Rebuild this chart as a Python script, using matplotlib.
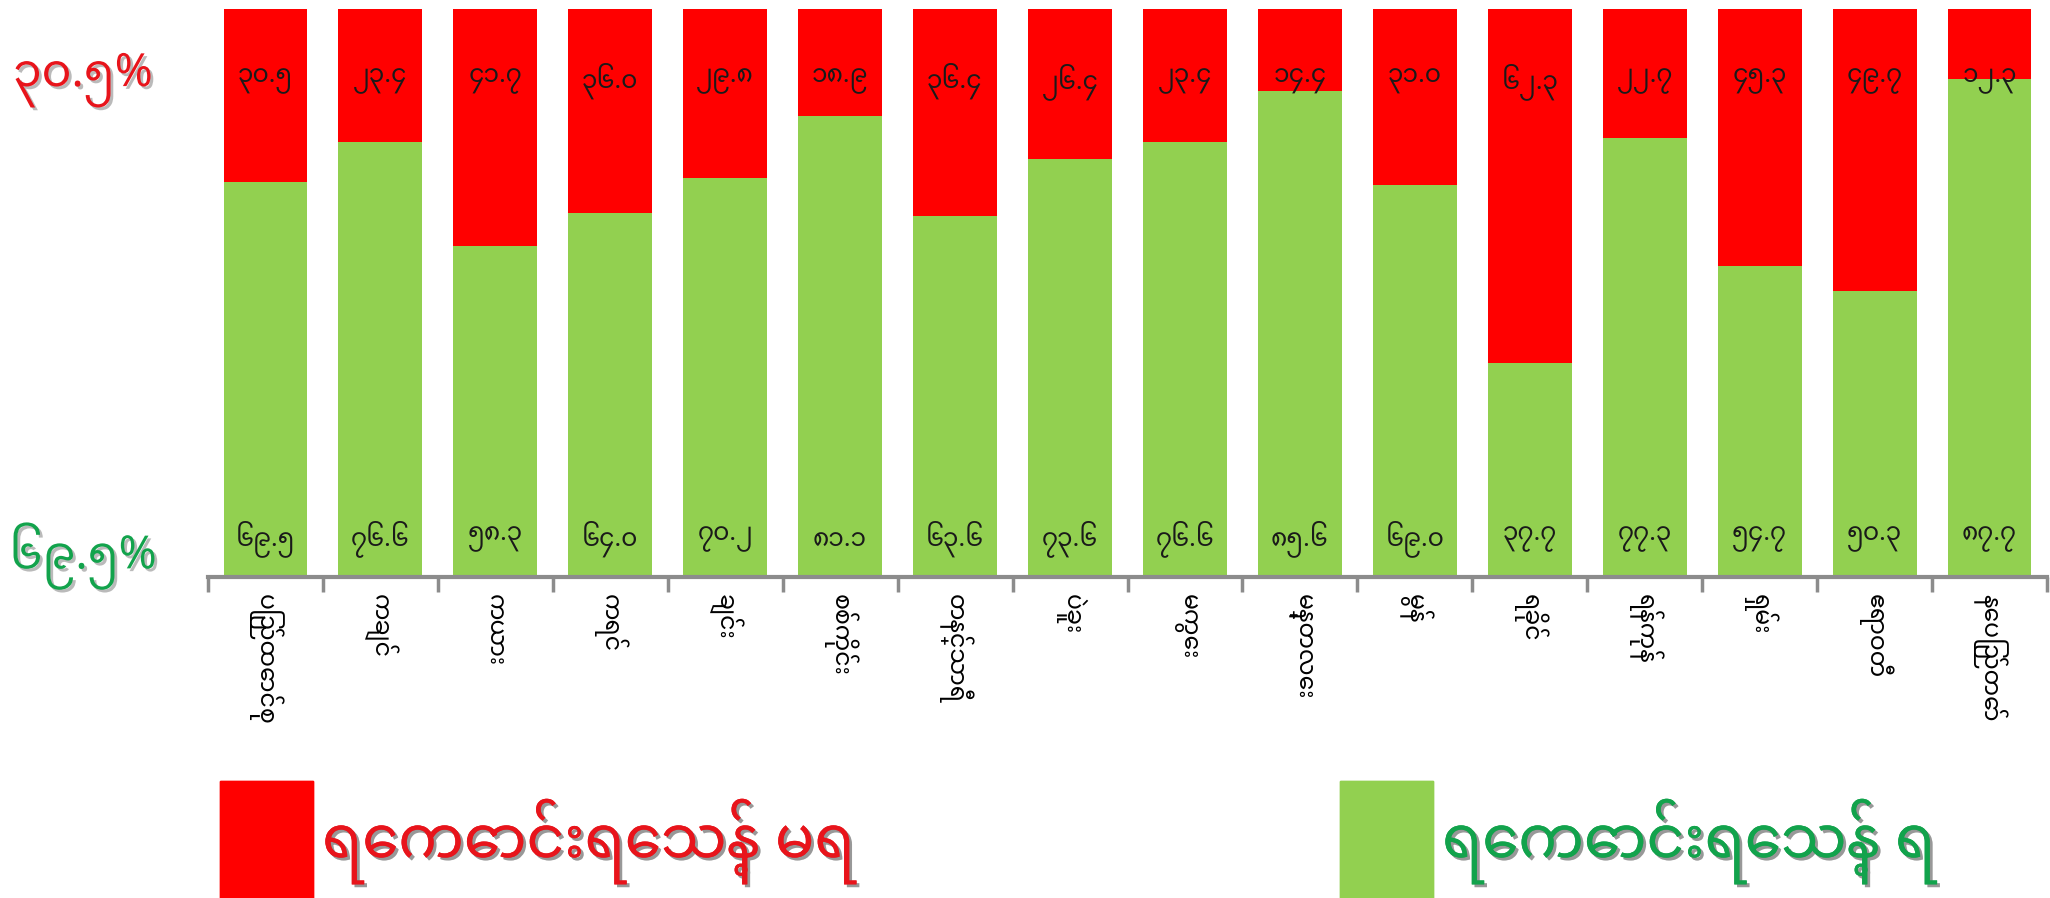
import numpy as np
import matplotlib
matplotlib.use("Agg")
import matplotlib.pyplot as plt
import matplotlib.patheffects as pe
from matplotlib import font_manager
from matplotlib.ft2font import FT2Font
from matplotlib.patches import Patch

# data (percent of households)
regions = ["ပြည်ထောင်စု", "ကချင်", "ကယား", "ကရင်", "ချင်း", "စစ်ကိုင်း",
           "တနင်္သာရီ", "ပဲခူး", "မကွေး", "မန္တလေး", "မွန်", "ရခိုင်",
           "ရန်ကုန်", "ရှမ်း", "ဧရာဝတီ", "နေပြည်တော်"]
have_water = [69.5, 76.6, 58.3, 64.0, 70.2, 81.1, 63.6, 73.6,
              76.6, 85.6, 69.0, 37.7, 77.3, 54.7, 50.3, 87.7]
no_water = [30.5, 23.4, 41.7, 36.0, 29.8, 18.9, 36.4, 26.4,
            23.4, 14.4, 31.0, 62.3, 22.7, 45.3, 49.7, 12.3]
union_no = 30.5
union_have = 69.5
legend_no = "ရေကောင်းရေသန့် မရ"
legend_have = "ရေကောင်းရေသန့် ရ"

RED = "#FF0000"
GREEN = "#92D050"
TXT_RED = "#E8141B"
TXT_GREEN = "#12A34C"


def to_mm(s):
    # western digits -> myanmar digits
    return s.translate(str.maketrans("0123456789", "၀၁၂၃၄၅၆၇၈၉"))


def pick_myanmar_font():
    names = set()
    for f in font_manager.fontManager.ttflist:
        try:
            cmap = FT2Font(f.fname).get_charmap()
        except Exception:
            continue
        if 0x1000 in cmap and 0x1041 in cmap:
            names.add(f.name)
    for want in ["Noto Sans Myanmar", "Padauk", "Myanmar Sans Pro", "Myanmar Khyay"]:
        if want in names:
            return want
    others = sorted(n for n in names if "unifont" not in n.lower())
    return others[0] if others else None


mm = pick_myanmar_font()
fam = [mm, "DejaVu Sans"] if mm else ["Noto Sans", "DejaVu Sans"]
plt.rcParams["font.family"] = fam

fig = plt.figure(figsize=(20.5, 8.98), dpi=100)
ax = fig.add_axes([208 / 2050, 1 - 577 / 898, 1839 / 2050, 568 / 898])

x = np.arange(len(regions))
ax.bar(x, have_water, width=0.73, color=GREEN)
ax.bar(x, no_water, bottom=have_water, width=0.73, color=RED)

for i in x:
    ax.text(i, 6.7, to_mm(f"{have_water[i]:.1f}"), ha="center", va="center",
            fontsize=18, color="#1a1a1a")
    ax.text(i, 87.3, to_mm(f"{no_water[i]:.1f}"), ha="center", va="center",
            fontsize=18, color="#1a1a1a")

ax.set_xlim(-0.5, len(regions) - 0.5)
ax.set_ylim(0, 100)
ax.set_yticks([])
for s in ["top", "left", "right"]:
    ax.spines[s].set_visible(False)
ax.spines["bottom"].set_color("#8c8c8c")
ax.spines["bottom"].set_linewidth(3)

ax.set_xticks(x)
ax.set_xticklabels(regions, rotation=-90, fontsize=17, va="top", ha="center")
ax.set_xticks(np.arange(-0.5, len(regions)), minor=True)
ax.tick_params(axis="x", which="major", length=0, pad=12)
ax.tick_params(axis="x", which="minor", length=11, width=2.5, color="#8c8c8c")

shadow = [pe.withSimplePatchShadow(offset=(2, -2), shadow_rgbFace="#777777", alpha=0.5)]

fig.text(83 / 2050, 1 - 80 / 898, to_mm(f"{union_no:.1f}%"), ha="center", va="center",
         fontsize=33, color=TXT_RED, path_effects=shadow)
fig.text(83 / 2050, 1 - 556 / 898, to_mm(f"{union_have:.1f}%"), ha="center", va="center",
         fontsize=33, color=TXT_GREEN, path_effects=shadow)

for label, col, tcol, x0 in [(legend_no, RED, TXT_RED, 220 / 2050),
                             (legend_have, GREEN, TXT_GREEN, 1340 / 2050)]:
    leg = fig.legend(handles=[Patch(color=col)], labels=[label], loc="lower left",
                     bbox_to_anchor=(x0, 0.0), frameon=False, fontsize=42,
                     handlelength=1.6, handleheight=2.7, handletextpad=0.15,
                     borderpad=0, borderaxespad=0, labelcolor=tcol)
    for t in leg.get_texts():
        t.set_path_effects(shadow)
    fig.add_artist(leg)

fig.savefig("out.png", dpi=100)
